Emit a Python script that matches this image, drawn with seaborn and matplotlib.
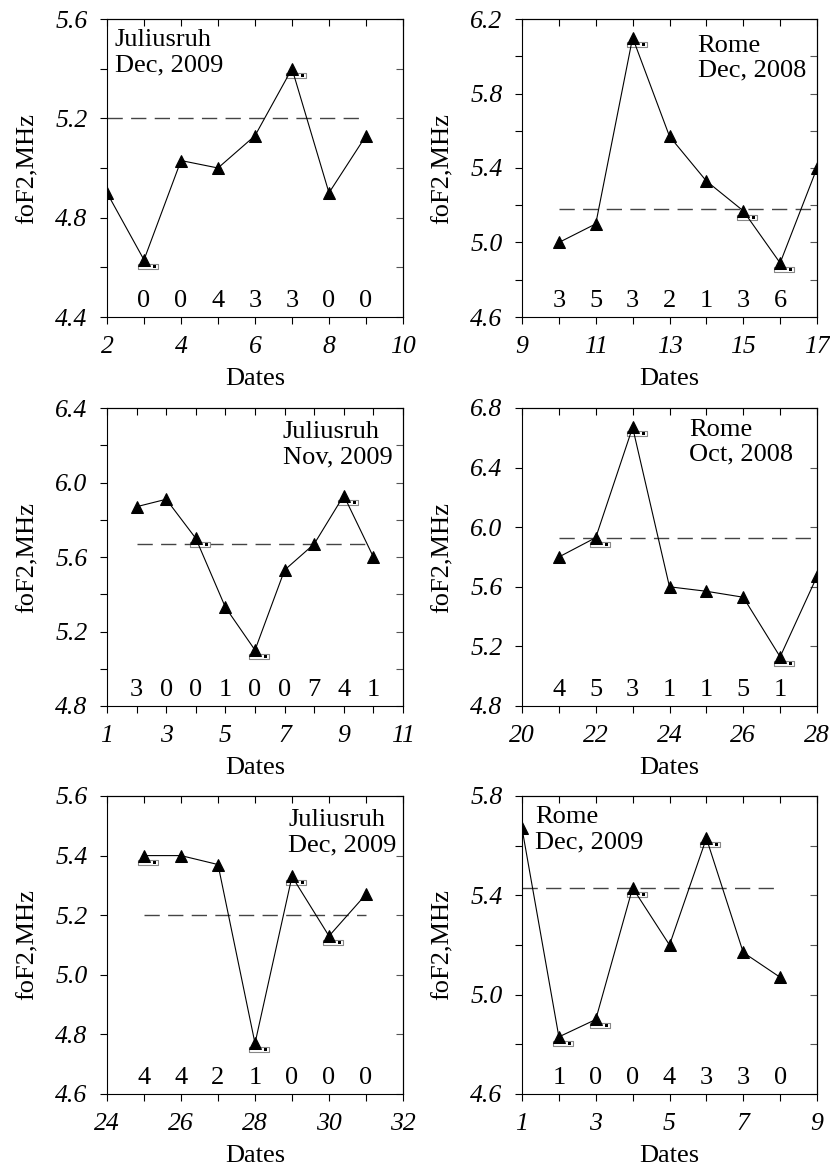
import matplotlib
matplotlib.use("Agg")
import matplotlib.pyplot as plt
import numpy as np
import pandas as pd
import seaborn as sns
from matplotlib.markers import MarkerStyle
from matplotlib.path import Path
from matplotlib.ticker import MultipleLocator


# data
DATES_A = [2, 3, 4, 5, 6, 7, 8, 9]
FOF2_A = [4.90, 4.63, 5.03, 5.00, 5.13, 5.40, 4.90, 5.13]
MEAN_A = 5.20
COUNT_DATES_A = [3, 4, 5, 6, 7, 8, 9]
COUNTS_A = ["0", "0", "4", "3", "3", "0", "0"]
FLAGS_A = [3, 7]

DATES_B = [10, 11, 12, 13, 14, 15, 16, 17]
FOF2_B = [5.00, 5.10, 6.10, 5.57, 5.33, 5.17, 4.89, 5.40]
MEAN_B = 5.18
COUNT_DATES_B = [10, 11, 12, 13, 14, 15, 16]
COUNTS_B = ["3", "5", "3", "2", "1", "3", "6"]
FLAGS_B = [12, 15, 16]

DATES_C = [2, 3, 4, 5, 6, 7, 8, 9, 10]
FOF2_C = [5.87, 5.91, 5.70, 5.33, 5.10, 5.53, 5.67, 5.93, 5.60]
MEAN_C = 5.67
COUNT_DATES_C = [2, 3, 4, 5, 6, 7, 8, 9, 10]
COUNTS_C = ["3", "0", "0", "1", "0", "0", "7", "4", "1"]
FLAGS_C = [4, 6, 9]

DATES_D = [21, 22, 23, 24, 25, 26, 27, 28]
FOF2_D = [5.80, 5.93, 6.67, 5.60, 5.57, 5.53, 5.13, 5.67]
MEAN_D = 5.93
COUNT_DATES_D = [21, 22, 23, 24, 25, 26, 27]
COUNTS_D = ["4", "5", "3", "1", "1", "5", "1"]
FLAGS_D = [22, 23, 27]

DATES_E = [25, 26, 27, 28, 29, 30, 31]
FOF2_E = [5.40, 5.40, 5.37, 4.77, 5.33, 5.13, 5.27]
MEAN_E = 5.20
COUNT_DATES_E = [25, 26, 27, 28, 29, 30, 31]
COUNTS_E = ["4", "4", "2", "1", "0", "0", "0"]
FLAGS_E = [25, 28, 29, 30]

DATES_F = [1, 2, 3, 4, 5, 6, 7, 8]
FOF2_F = [5.67, 4.83, 4.90, 5.43, 5.20, 5.63, 5.17, 5.07]
MEAN_F = 5.43
COUNT_DATES_F = [2, 3, 4, 5, 6, 7, 8]
COUNTS_F = ["1", "0", "0", "4", "3", "3", "0"]
FLAGS_F = [2, 3, 4, 6]

TITLES = ["Juliusruh\nDec, 2009", "Rome\nDec, 2008", "Juliusruh\nNov, 2009",
          "Rome\nOct, 2008", "Juliusruh\nDec, 2009", "Rome\nDec, 2009"]

XLABEL = "Dates"
YLABEL = "foF2,MHz"

FS = 19
TICKFS = 18.5

# panel table: data, x range, y range, y label step, y tick step, title position, axes rect (px)
PANELS = [
    dict(d=DATES_A, v=FOF2_A, m=MEAN_A, cd=COUNT_DATES_A, c=COUNTS_A, f=FLAGS_A,
         xr=(2, 10), yr=(4.4, 5.6), ys=0.4, yt=0.2, tp=(0.027, 0.965), box=(107, 19, 296, 298)),
    dict(d=DATES_B, v=FOF2_B, m=MEAN_B, cd=COUNT_DATES_B, c=COUNTS_B, f=FLAGS_B,
         xr=(9, 17), yr=(4.6, 6.2), ys=0.4, yt=0.2, tp=(0.595, 0.945), box=(522, 19, 295, 298)),
    dict(d=DATES_C, v=FOF2_C, m=MEAN_C, cd=COUNT_DATES_C, c=COUNTS_C, f=FLAGS_C,
         xr=(1, 11), yr=(4.8, 6.4), ys=0.4, yt=0.2, tp=(0.593, 0.955), box=(107, 408, 296, 298)),
    dict(d=DATES_D, v=FOF2_D, m=MEAN_D, cd=COUNT_DATES_D, c=COUNTS_D, f=FLAGS_D,
         xr=(20, 28), yr=(4.8, 6.8), ys=0.4, yt=0.4, tp=(0.566, 0.962), box=(522, 408, 295, 298)),
    dict(d=DATES_E, v=FOF2_E, m=MEAN_E, cd=COUNT_DATES_E, c=COUNTS_E, f=FLAGS_E,
         xr=(24, 32), yr=(4.6, 5.6), ys=0.2, yt=0.2, tp=(0.613, 0.955), box=(107, 796, 296, 298)),
    dict(d=DATES_F, v=FOF2_F, m=MEAN_F, cd=COUNT_DATES_F, c=COUNTS_F, f=FLAGS_F,
         xr=(1, 9), yr=(4.6, 5.8), ys=0.4, yt=0.2, tp=(0.045, 0.965), box=(522, 796, 295, 298)),
]

W, H = 830, 1171
PX2PT = 72 / 100


def flag_markers():
    # small outlined box with a dark dot, sitting just below-right of the triangle
    box = [(-6, -3.5), (14, -3.5), (14, -9), (-6, -9), (-6, -3.5)]
    box_codes = [Path.MOVETO, Path.LINETO, Path.LINETO, Path.LINETO, Path.CLOSEPOLY]
    dot = [(14, 0), (8.5, -5), (12, -5), (12, -7.8), (8.5, -7.8), (8.5, -5)]
    dot_codes = [Path.MOVETO, Path.MOVETO, Path.LINETO, Path.LINETO, Path.LINETO, Path.CLOSEPOLY]
    size = 2 * 14 * PX2PT
    return MarkerStyle(Path(box, box_codes)), MarkerStyle(Path(dot, dot_codes)), size


def draw_panel(fig, p, title):
    l, t, w, h = p["box"]
    ax = fig.add_axes([l / W, 1 - (t + h) / H, w / W, h / H])
    df = pd.DataFrame({"date": p["d"], "fof2": p["v"]})

    # mean level
    ax.plot([p["d"][0], p["d"][-1]], [p["m"], p["m"]], color="#444444",
            lw=1.0, dashes=(11, 6), zorder=1)

    # flagged days
    flagged = df[df["date"].isin(p["f"])]
    box_m, dot_m, size = flag_markers()
    sns.scatterplot(data=flagged, x="date", y="fof2", marker=box_m, s=size ** 2,
                    facecolor="white", edgecolor="#888888", linewidth=0.8, ax=ax, zorder=2)
    sns.scatterplot(data=flagged, x="date", y="fof2", marker=dot_m, s=size ** 2,
                    color="black", linewidth=0, ax=ax, zorder=2)

    sns.lineplot(data=df, x="date", y="fof2", color="black", lw=0.8, marker="^",
                 markersize=9, markeredgecolor="black", markerfacecolor="black",
                 ax=ax, zorder=3)

    for xd, txt in zip(p["cd"], p["c"]):
        ax.text(xd, 0.055, txt, transform=ax.get_xaxis_transform(), ha="center",
                va="center", fontsize=FS)

    ax.text(p["tp"][0], p["tp"][1], title, transform=ax.transAxes, ha="left",
            va="top", fontsize=FS, linespacing=1.15)

    x0, x1 = p["xr"]
    y0, y1 = p["yr"]
    ax.set_xlim(x0, x1)
    ax.set_ylim(y0, y1)

    xt = np.arange(x0, x1 + 1, 2)
    ax.set_xticks(xt, [str(v) for v in xt], fontstyle="italic", fontsize=TICKFS)
    ax.xaxis.set_minor_locator(MultipleLocator(1))
    nlab = int(round((y1 - y0) / p["ys"])) + 1
    yt = [round(y0 + i * p["ys"], 2) for i in range(nlab)]
    ax.set_yticks(yt, [f"{v:.1f}" for v in yt], fontstyle="italic", fontsize=TICKFS)
    ax.yaxis.set_minor_locator(MultipleLocator(p["yt"]))

    ax.tick_params(axis="both", which="both", direction="out", length=5, width=0.8,
                   color="black", top=False, right=False)
    ax.tick_params(axis="x", which="major", pad=9)
    ax.tick_params(axis="y", which="major", pad=9)

    top = ax.secondary_xaxis("top")
    top.set_xticks(xt, [""] * len(xt))
    top.xaxis.set_minor_locator(MultipleLocator(1))
    top.tick_params(axis="x", which="both", direction="in", length=5, width=0.8)
    right = ax.secondary_yaxis("right")
    right.set_yticks(yt, [""] * len(yt))
    right.yaxis.set_minor_locator(MultipleLocator(p["yt"]))
    right.tick_params(axis="y", which="both", direction="in", length=5, width=0.8,
                      color="#555555")

    for s in ax.spines.values():
        s.set_linewidth(0.8)
        s.set_color("black")
    for sec in (top, right):
        for s in sec.spines.values():
            s.set_linewidth(0.8)

    ax.set_xlabel(XLABEL, fontsize=FS)
    ax.set_ylabel(YLABEL, fontsize=FS)
    ax.xaxis.set_label_coords(0.5, -0.17)
    ax.yaxis.set_label_coords(-0.23, 0.5)
    return ax


def main():
    sns.set_theme(style="ticks", rc={"text.color": "black", "axes.labelcolor": "black",
                                     "xtick.color": "black", "ytick.color": "black",
                                     "axes.edgecolor": "black"})
    plt.rcParams["font.family"] = ["Liberation Serif", "DejaVu Serif"]
    fig = plt.figure(figsize=(W / 100, H / 100), dpi=100)
    for p, title in zip(PANELS, TITLES):
        draw_panel(fig, p, title)
    fig.savefig("out.png", dpi=100)
    plt.close(fig)


if __name__ == "__main__":
    main()
